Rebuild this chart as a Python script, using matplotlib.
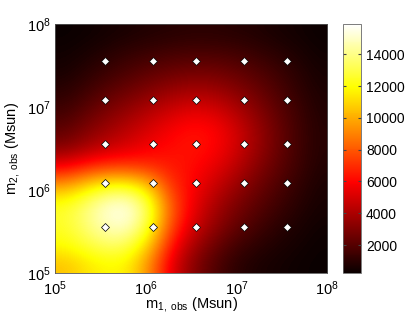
import numpy as np
import matplotlib
matplotlib.use("Agg")
import matplotlib.pyplot as plt

plt.rcParams['font.family'] = ['Liberation Sans', 'DejaVu Sans']
plt.rcParams['mathtext.fontset'] = 'custom'
plt.rcParams['mathtext.rm'] = 'Liberation Sans'
plt.rcParams['mathtext.it'] = 'Liberation Sans'

# grid of log10 masses at which the field is read (both axes)
log_m = [5.0, 5.25, 5.5, 5.75, 6.0, 6.25, 6.5, 6.75, 7.0, 7.25, 7.5, 7.75, 8.0]

# field values (thousands), rows from log10 m2 = 5.0 (bottom) to 8.0 (top)
field_k = [
    [10.5, 11.3, 11.8, 11.6, 9.2, 5.5, 3.3, 2.0, 1.1, 0.7, 0.5, 0.35, 0.25],
    [12.0, 12.8, 13.6, 13.2, 10.8, 6.6, 4.1, 2.7, 1.7, 1.1, 0.75, 0.5, 0.3],
    [12.5, 13.8, 15.0, 15.2, 12.6, 7.8, 5.2, 3.6, 2.5, 1.7, 1.1, 0.7, 0.4],
    [12.5, 13.8, 15.3, 15.6, 13.0, 8.2, 5.7, 4.1, 3.0, 2.2, 1.5, 0.95, 0.55],
    [10.0, 11.3, 12.5, 12.5, 10.8, 7.2, 6.0, 4.8, 3.7, 2.7, 1.9, 1.2, 0.65],
    [6.0, 7.0, 7.5, 7.5, 7.1, 6.5, 6.2, 5.5, 4.5, 3.3, 2.3, 1.5, 0.8],
    [3.2, 4.0, 4.7, 5.2, 5.8, 6.2, 6.4, 6.1, 5.1, 3.8, 2.6, 1.6, 0.9],
    [2.2, 3.0, 3.7, 4.4, 5.1, 5.8, 6.3, 6.1, 5.1, 3.8, 2.6, 1.6, 0.9],
    [1.5, 2.2, 2.9, 3.5, 4.2, 4.8, 5.3, 5.1, 4.3, 3.3, 2.3, 1.5, 0.8],
    [1.0, 1.5, 2.1, 2.6, 3.1, 3.6, 3.9, 3.8, 3.3, 2.6, 1.9, 1.2, 0.7],
    [0.6, 1.0, 1.4, 1.8, 2.2, 2.5, 2.7, 2.7, 2.4, 2.0, 1.5, 1.0, 0.55],
    [0.4, 0.6, 0.9, 1.2, 1.4, 1.6, 1.7, 1.7, 1.6, 1.3, 1.0, 0.7, 0.4],
    [0.25, 0.35, 0.5, 0.65, 0.8, 0.9, 1.0, 1.0, 0.9, 0.8, 0.6, 0.45, 0.3],
]

# observed masses of the sampled systems (Msun)
m_obs = [3.6e5, 1.2e6, 3.6e6, 1.2e7, 3.6e7]

cbar_ticks = [2000, 4000, 6000, 8000, 10000, 12000, 14000]
vmin, vmax = 240, 15900
axis_decades = [5, 6, 7, 8]

Z = np.array(field_k) * 1000.0

fig = plt.figure(figsize=(4.15, 3.13), dpi=100)
ax = fig.add_axes([0.1325, 0.1278, 0.6555, 0.7955])
cax = fig.add_axes([0.8265, 0.1278, 0.0435, 0.7955])

im = ax.imshow(Z, origin='lower', cmap='hot', vmin=vmin, vmax=vmax,
               extent=[log_m[0], log_m[-1], log_m[0], log_m[-1]],
               interpolation='bicubic', aspect='auto')

lm = np.log10(m_obs)
MX, MY = np.meshgrid(lm, lm)
ax.plot(MX.ravel(), MY.ravel(), linestyle='none', marker='D', markersize=3.6,
        markerfacecolor='white', markeredgecolor='black', markeredgewidth=0.5)

ax.set_xlim(5, 8)
ax.set_ylim(5, 8)
ax.set_xticks(axis_decades)
ax.set_yticks(axis_decades)
ax.set_xticklabels([r'$10^{%d}$' % d for d in axis_decades])
ax.set_yticklabels([r'$10^{%d}$' % d for d in axis_decades])
ax.tick_params(direction='in', length=0, labelsize=10.5)
ax.tick_params(axis='x', pad=4.5)
ax.tick_params(axis='y', pad=3)
for s in ax.spines.values():
    s.set_color('#555555')
    s.set_linewidth(0.6)

ax.set_xlabel(r'm$_{\mathrm{1,\ obs}}$ (Msun)', fontsize=10.5, labelpad=-2)
ax.set_ylabel(r'm$_{\mathrm{2,\ obs}}$ (Msun)', fontsize=10.5, labelpad=4)

cb = fig.colorbar(im, cax=cax, ticks=cbar_ticks)
cb.ax.tick_params(direction='in', length=2.5, labelsize=10, left=True, right=True, color='#444444')
cb.outline.set_edgecolor('#666666')
cb.outline.set_linewidth(0.6)

fig.savefig('out.png', dpi=100)
